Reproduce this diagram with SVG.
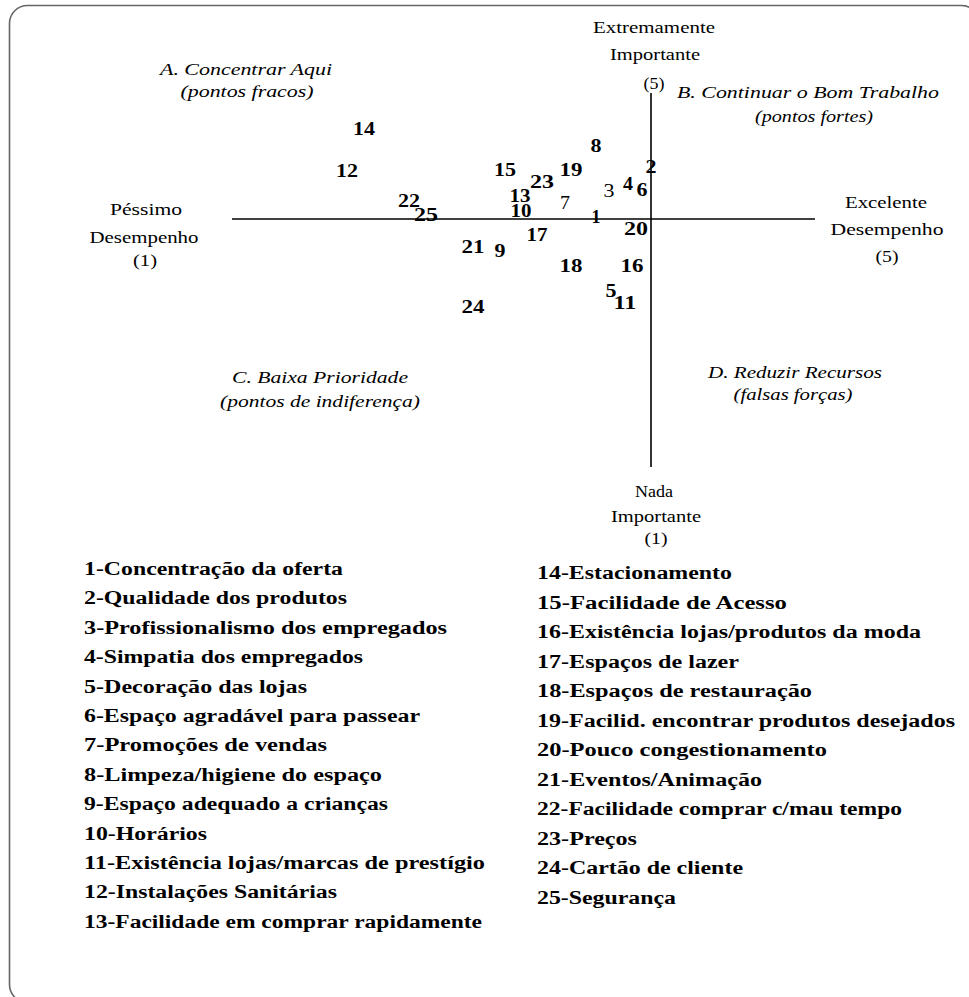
<svg xmlns="http://www.w3.org/2000/svg" width="969" height="997" viewBox="0 0 969 997">
<style>
text{font-family:'Liberation Serif',Tinos,'Times New Roman',Times,serif;fill:#000}
.ax{font-size:16px;text-anchor:middle}
.q{font-size:16px;font-style:italic;text-anchor:middle}
.n{font-size:18px;font-weight:bold;text-anchor:middle}
.nr{font-size:18px;font-weight:normal;text-anchor:middle}
.lg{font-size:18px;font-weight:bold}
.axis{stroke:#000;stroke-width:1.6;fill:none}
</style>
<rect x="9.5" y="5.5" width="970" height="997" rx="18" ry="18" fill="#fff" stroke="#666" stroke-width="1.6"/>
<g id="connectors">
<line class="axis" x1="232" y1="219" x2="815" y2="219"/>
<line class="axis" x1="651" y1="93" x2="651" y2="467"/>
</g>
<g id="axis-labels">
<g id="top-label">
<text class="ax" x="654" y="33" textLength="122" lengthAdjust="spacingAndGlyphs">Extremamente</text>
<text class="ax" x="655" y="60" textLength="90" lengthAdjust="spacingAndGlyphs">Importante</text>
<text class="ax" x="654" y="89" textLength="21" lengthAdjust="spacingAndGlyphs">(5)</text>
</g>
<g id="bottom-label">
<text class="ax" x="654" y="497" textLength="38" lengthAdjust="spacingAndGlyphs">Nada</text>
<text class="ax" x="656" y="522" textLength="90" lengthAdjust="spacingAndGlyphs">Importante</text>
<text class="ax" x="656" y="544" textLength="23" lengthAdjust="spacingAndGlyphs">(1)</text>
</g>
<g id="left-label">
<text class="ax" x="146" y="215" textLength="72" lengthAdjust="spacingAndGlyphs">Péssimo</text>
<text class="ax" x="144" y="243" textLength="109" lengthAdjust="spacingAndGlyphs">Desempenho</text>
<text class="ax" x="145" y="266" textLength="24" lengthAdjust="spacingAndGlyphs">(1)</text>
</g>
<g id="right-label">
<text class="ax" x="886" y="208" textLength="82" lengthAdjust="spacingAndGlyphs">Excelente</text>
<text class="ax" x="887" y="235" textLength="113" lengthAdjust="spacingAndGlyphs">Desempenho</text>
<text class="ax" x="887" y="262" textLength="23" lengthAdjust="spacingAndGlyphs">(5)</text>
</g>
</g>
<g id="quadrants">
<g id="quadrant-A">
<text class="q" x="246" y="75" textLength="172" lengthAdjust="spacingAndGlyphs">A. Concentrar Aqui</text>
<text class="q" x="247" y="97" textLength="133" lengthAdjust="spacingAndGlyphs">(pontos fracos)</text>
</g>
<g id="quadrant-B">
<text class="q" x="808" y="98" textLength="262" lengthAdjust="spacingAndGlyphs">B. Continuar o Bom Trabalho</text>
<text class="q" x="814" y="122" textLength="118" lengthAdjust="spacingAndGlyphs">(pontos fortes)</text>
</g>
<g id="quadrant-C">
<text class="q" x="320" y="383" textLength="176" lengthAdjust="spacingAndGlyphs">C. Baixa Prioridade</text>
<text class="q" x="320" y="407" textLength="200" lengthAdjust="spacingAndGlyphs">(pontos de indiferença)</text>
</g>
<g id="quadrant-D">
<text class="q" x="795" y="378" textLength="174" lengthAdjust="spacingAndGlyphs">D. Reduzir Recursos</text>
<text class="q" x="793" y="400" textLength="119" lengthAdjust="spacingAndGlyphs">(falsas forças)</text>
</g>
</g>
<g id="points">
<g id="p14"><text class="n" x="364" y="135" textLength="22" lengthAdjust="spacingAndGlyphs">14</text></g>
<g id="p12"><text class="n" x="347" y="177" textLength="22" lengthAdjust="spacingAndGlyphs">12</text></g>
<g id="p22"><text class="n" x="409" y="207" textLength="22" lengthAdjust="spacingAndGlyphs">22</text></g>
<g id="p25"><text class="n" x="426" y="221" textLength="24" lengthAdjust="spacingAndGlyphs">25</text></g>
<g id="p15"><text class="n" x="505" y="176" textLength="22" lengthAdjust="spacingAndGlyphs">15</text></g>
<g id="p23"><text class="n" x="542" y="188" textLength="24" lengthAdjust="spacingAndGlyphs">23</text></g>
<g id="p13"><text class="n" x="520" y="202" textLength="21" lengthAdjust="spacingAndGlyphs">13</text></g>
<g id="p10"><text class="n" x="521" y="217" textLength="21" lengthAdjust="spacingAndGlyphs">10</text></g>
<g id="p19"><text class="n" x="571" y="176" textLength="23" lengthAdjust="spacingAndGlyphs">19</text></g>
<g id="p8"><text class="n" x="596" y="152" textLength="11" lengthAdjust="spacingAndGlyphs">8</text></g>
<g id="p7"><text class="nr" x="565" y="209" textLength="10" lengthAdjust="spacingAndGlyphs">7</text></g>
<g id="p3"><text class="nr" x="609" y="197" textLength="11" lengthAdjust="spacingAndGlyphs">3</text></g>
<g id="p4"><text class="n" x="628" y="190" textLength="10" lengthAdjust="spacingAndGlyphs">4</text></g>
<g id="p6"><text class="n" x="642" y="196" textLength="11" lengthAdjust="spacingAndGlyphs">6</text></g>
<g id="p2"><text class="n" x="651" y="173" textLength="11" lengthAdjust="spacingAndGlyphs">2</text></g>
<g id="p1"><text class="n" x="596" y="223" textLength="9" lengthAdjust="spacingAndGlyphs">1</text></g>
<g id="p20"><text class="n" x="636" y="235" textLength="24" lengthAdjust="spacingAndGlyphs">20</text></g>
<g id="p17"><text class="n" x="537" y="241" textLength="21" lengthAdjust="spacingAndGlyphs">17</text></g>
<g id="p21"><text class="n" x="473" y="253" textLength="23" lengthAdjust="spacingAndGlyphs">21</text></g>
<g id="p9"><text class="n" x="500" y="257" textLength="11" lengthAdjust="spacingAndGlyphs">9</text></g>
<g id="p18"><text class="n" x="571" y="272" textLength="23" lengthAdjust="spacingAndGlyphs">18</text></g>
<g id="p16"><text class="n" x="632" y="272" textLength="23" lengthAdjust="spacingAndGlyphs">16</text></g>
<g id="p5"><text class="n" x="611" y="297" textLength="11" lengthAdjust="spacingAndGlyphs">5</text></g>
<g id="p11"><text class="n" x="625" y="309" textLength="23" lengthAdjust="spacingAndGlyphs">11</text></g>
<g id="p24"><text class="n" x="473" y="313" textLength="23" lengthAdjust="spacingAndGlyphs">24</text></g>
</g>
<g id="legend-left">
<text class="lg" x="84" y="575" textLength="259" lengthAdjust="spacingAndGlyphs">1-Concentração da oferta</text>
<text class="lg" x="84" y="604.4" textLength="263" lengthAdjust="spacingAndGlyphs">2-Qualidade dos produtos</text>
<text class="lg" x="84" y="633.8" textLength="363" lengthAdjust="spacingAndGlyphs">3-Profissionalismo dos empregados</text>
<text class="lg" x="84" y="663.2" textLength="279" lengthAdjust="spacingAndGlyphs">4-Simpatia dos empregados</text>
<text class="lg" x="84" y="692.6" textLength="223" lengthAdjust="spacingAndGlyphs">5-Decoração das lojas</text>
<text class="lg" x="84" y="722" textLength="336" lengthAdjust="spacingAndGlyphs">6-Espaço agradável para passear</text>
<text class="lg" x="84" y="751.4" textLength="243" lengthAdjust="spacingAndGlyphs">7-Promoções de vendas</text>
<text class="lg" x="84" y="780.8" textLength="298" lengthAdjust="spacingAndGlyphs">8-Limpeza/higiene do espaço</text>
<text class="lg" x="84" y="810.2" textLength="304" lengthAdjust="spacingAndGlyphs">9-Espaço adequado a crianças</text>
<text class="lg" x="84" y="839.6" textLength="123" lengthAdjust="spacingAndGlyphs">10-Horários</text>
<text class="lg" x="84" y="869" textLength="401" lengthAdjust="spacingAndGlyphs">11-Existência lojas/marcas de prestígio</text>
<text class="lg" x="84" y="898.4" textLength="253" lengthAdjust="spacingAndGlyphs">12-Instalações Sanitárias</text>
<text class="lg" x="84" y="927.8" textLength="398" lengthAdjust="spacingAndGlyphs">13-Facilidade em comprar rapidamente</text>
</g>
<g id="legend-right">
<text class="lg" x="537" y="579" textLength="195" lengthAdjust="spacingAndGlyphs">14-Estacionamento</text>
<text class="lg" x="537" y="608.5" textLength="250" lengthAdjust="spacingAndGlyphs">15-Facilidade de Acesso</text>
<text class="lg" x="537" y="638" textLength="384" lengthAdjust="spacingAndGlyphs">16-Existência lojas/produtos da moda</text>
<text class="lg" x="537" y="667.5" textLength="202" lengthAdjust="spacingAndGlyphs">17-Espaços de lazer</text>
<text class="lg" x="537" y="697" textLength="275" lengthAdjust="spacingAndGlyphs">18-Espaços de restauração</text>
<text class="lg" x="537" y="726.5" textLength="418" lengthAdjust="spacingAndGlyphs">19-Facilid. encontrar produtos desejados</text>
<text class="lg" x="537" y="756" textLength="290" lengthAdjust="spacingAndGlyphs">20-Pouco congestionamento</text>
<text class="lg" x="537" y="785.5" textLength="225" lengthAdjust="spacingAndGlyphs">21-Eventos/Animação</text>
<text class="lg" x="537" y="815" textLength="365" lengthAdjust="spacingAndGlyphs">22-Facilidade comprar c/mau tempo</text>
<text class="lg" x="537" y="844.5" textLength="100" lengthAdjust="spacingAndGlyphs">23-Preços</text>
<text class="lg" x="537" y="874" textLength="206" lengthAdjust="spacingAndGlyphs">24-Cartão de cliente</text>
<text class="lg" x="537" y="903.5" textLength="139" lengthAdjust="spacingAndGlyphs">25-Segurança</text>
</g>
</svg>
